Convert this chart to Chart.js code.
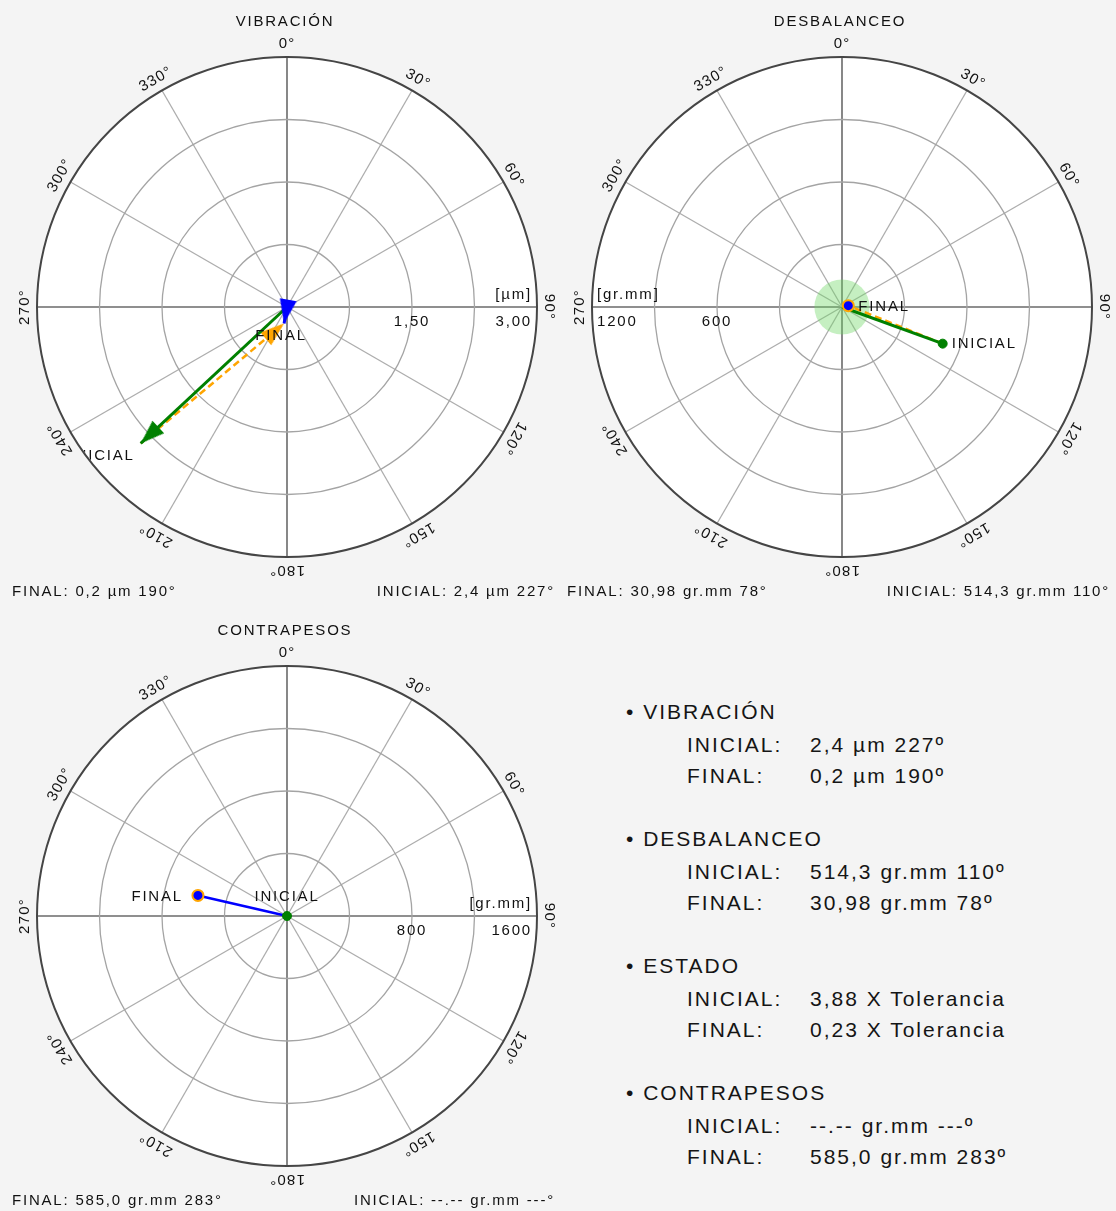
<!DOCTYPE html>
<html>
<head>
<meta charset="utf-8">
<script src="https://cdn.jsdelivr.net/npm/chart.js@4.4.1/dist/chart.umd.min.js"></script>
<style>
  body { margin: 0; background: #f4f4f4; }
  #page { position: relative; width: 1116px; height: 1211px; background: #f4f4f4;
          font-family: 'Liberation Sans', Arial, sans-serif; overflow: hidden; }
  #page canvas { position: absolute; }
  .sum { position: absolute; font-size: 21px; line-height: 24px; color: #151515;
         letter-spacing: 2px; white-space: nowrap; }
</style>
</head>
<body>
<div id="page">
  <canvas id="vib" width="560" height="609" style="left:0;top:0"></canvas>
  <canvas id="des" width="561" height="609" style="left:555px;top:0"></canvas>
  <canvas id="con" width="560" height="602" style="left:0;top:609px"></canvas>
</div>

<script>
/* ── data (index 0 = INICIAL, 1 = FINAL) ── */
const ANGLE_TICKS = [0, 30, 60, 90, 120, 150, 180, 210, 240, 270, 300, 330];

// VIBRACIÓN [µm]
const VIB_MAG   = [2.4, 0.2];
const VIB_ANG   = [227, 190];
const VIB_DEC   = [1, 1];
const VIB_RINGS = [0.75, 1.5, 2.25, 3.0];
const VIB_TICKS = ['1,50', '3,00'];

// DESBALANCEO [gr.mm]
const DES_MAG   = [514.3, 30.98];
const DES_ANG   = [110, 78];
const DES_DEC   = [1, 2];
const DES_RINGS = [300, 600, 900, 1200];
const DES_TICKS = ['600', '1200'];

// ESTADO [x Tolerancia]
const EST_VAL = [3.88, 0.23];

// CONTRAPESOS [gr.mm]  (INICIAL sin dato)
const CON_MAG   = [null, 585.0];
const CON_ANG   = [null, 283];
const CON_DEC   = [2, 1];
const CON_RINGS = [400, 800, 1200, 1600];
const CON_TICKS = ['800', '1600'];

/* ── colours ── */
const GREEN  = '#008000';
const BLUE   = '#0000ff';
const ORANGE = '#ffa500';
const FONT   = '"Liberation Sans", Arial, sans-serif';

/* ── helpers ── */
const RAD = Math.PI / 180;
const fmt  = (v, d) => v == null ? '--.--' : v.toFixed(d).replace('.', ',');
const angT = a => a == null ? '---' : String(a);
const pt   = (m, a) => ({ x: (m || 0) * Math.sin((a || 0) * RAD), y: (m || 0) * Math.cos((a || 0) * RAD) });
const bearing = (p, q) => Math.atan2(q.x - p.x, q.y - p.y) / RAD;
const ORIGIN = { x: 0, y: 0 };

/* arrowhead image: apex at the canvas centre, body below it */
function arrowHead(color, len = 24, wid = 17) {
  const c = document.createElement('canvas');
  c.width = wid; c.height = len * 2;
  const g = c.getContext('2d');
  g.fillStyle = color;
  g.beginPath();
  g.moveTo(wid / 2, len);
  g.lineTo(wid, len * 2);
  g.lineTo(0, len * 2);
  g.closePath();
  g.fill();
  return c;
}

function text(ctx, str, x, y, align = 'center', size = 15, rot = 0, spacing = 1.8) {
  ctx.save();
  ctx.translate(x, y);
  if (rot) ctx.rotate(rot * RAD);
  ctx.font = `${size}px ${FONT}`;
  ctx.letterSpacing = spacing + 'px';
  ctx.fillStyle = '#111';
  ctx.textAlign = align;
  ctx.textBaseline = 'middle';
  ctx.fillText(str, 0, 0);
  ctx.restore();
}

/* ── polar grid + labels plugin ── */
function polarPlugin(c) {
  return {
    id: 'polar',
    beforeDatasetsDraw(chart) {
      const { ctx, scales: { x, y } } = chart;
      const cx = x.getPixelForValue(0), cy = y.getPixelForValue(0);
      const px = v => x.getPixelForValue(v) - cx;
      const R = px(c.rings[c.rings.length - 1]);
      ctx.save();
      ctx.beginPath(); ctx.arc(cx, cy, R, 0, 2 * Math.PI);
      ctx.fillStyle = '#fff'; ctx.fill();

      ANGLE_TICKS.forEach(a => {
        const axis = a % 90 === 0;
        ctx.strokeStyle = axis ? '#6a6a6a' : '#adadad';
        ctx.lineWidth = axis ? 1.6 : 1.3;
        ctx.beginPath();
        ctx.moveTo(cx, cy);
        ctx.lineTo(cx + R * Math.sin(a * RAD), cy - R * Math.cos(a * RAD));
        ctx.stroke();
      });

      ctx.strokeStyle = '#a4a4a4'; ctx.lineWidth = 1.3;
      c.rings.slice(0, -1).forEach(v => {
        ctx.beginPath(); ctx.arc(cx, cy, px(v), 0, 2 * Math.PI); ctx.stroke();
      });

      if (c.tol) {
        ctx.beginPath(); ctx.arc(cx, cy, px(c.tol), 0, 2 * Math.PI);
        ctx.fillStyle = 'rgba(110,215,100,0.4)'; ctx.fill();
      }

      ctx.strokeStyle = '#454545'; ctx.lineWidth = 2;
      ctx.beginPath(); ctx.arc(cx, cy, R, 0, 2 * Math.PI); ctx.stroke();

      // radial tick labels + unit
      const s = c.side === 'left' ? -1 : 1;
      text(ctx, c.ticks[0], cx + s * px(c.rings[1]), cy + 15);
      text(ctx, c.ticks[1], cx + s * (R - 5), cy + 15, s > 0 ? 'right' : 'left');
      text(ctx, c.unit, cx + s * (R - 5), cy - 12, s > 0 ? 'right' : 'left');
      ctx.restore();
    },
    afterDatasetsDraw(chart) {
      const { ctx, scales: { x, y } } = chart;
      const cx = x.getPixelForValue(0), cy = y.getPixelForValue(0);
      const R = x.getPixelForValue(c.rings[c.rings.length - 1]) - cx;

      // vector labels, kept inside the dial
      ctx.save();
      ctx.beginPath(); ctx.arc(cx, cy, R - 1, 0, 2 * Math.PI); ctx.clip();
      c.labels.forEach(l => {
        text(ctx, l.text, x.getPixelForValue(l.at.x) + l.dx, y.getPixelForValue(l.at.y) + l.dy, l.align);
      });
      ctx.restore();

      // angle labels, turned with the angle
      ANGLE_TICKS.forEach(a => {
        text(ctx, a + '°', cx + 262 * Math.sin(a * RAD), cy - 263 * Math.cos(a * RAD), 'center', 15, a, 1.2);
      });

      text(ctx, c.title, cx - 2, 22);
      text(ctx, c.footL, 12, 592, 'left');
      text(ctx, c.footR, 555, 592, 'right');
    }
  };
}

function makePolar(id, datasets, c) {
  const max = c.rings[c.rings.length - 1];
  const cv = document.getElementById(id);
  return new Chart(cv.getContext('2d'), {
    type: 'scatter',
    data: { datasets },
    options: {
      responsive: false,
      animation: false,
      events: [],
      layout: { padding: { left: 37, top: 57, right: cv.width - 537, bottom: cv.height - 557 } },
      scales: {
        x: { type: 'linear', min: -max, max: max, display: false },
        y: { type: 'linear', min: -max, max: max, display: false },
      },
      plugins: { legend: { display: false }, tooltip: { enabled: false } },
    },
    plugins: [polarPlugin(c)],
  });
}

const line = (data, color, width, dash) => ({
  data, showLine: true, borderColor: color, borderWidth: width, borderDash: dash || [],
  pointRadius: 0, fill: false,
});
const head = (p, color, rot) => ({
  data: [p], pointStyle: arrowHead(color), rotation: rot, pointRadius: 10,
});
const dot = (p, fill, stroke, r, bw) => ({
  data: [p], pointRadius: r, pointBackgroundColor: fill, pointBorderColor: stroke, pointBorderWidth: bw,
});

/* ── VIBRACIÓN ── */
const vi = pt(VIB_MAG[0], VIB_ANG[0]), vf = pt(VIB_MAG[1], VIB_ANG[1]);
makePolar('vib', [
  head(vf, BLUE, VIB_ANG[1]),
  line([ORIGIN, vf], BLUE, 3),
  head(vi, GREEN, VIB_ANG[0]),
  line([ORIGIN, vi], GREEN, 3),
  head(vf, ORANGE, bearing(vi, vf)),
  line([vi, vf], ORANGE, 2.5, [7, 4]),
], {
  title: 'VIBRACIÓN', rings: VIB_RINGS, ticks: VIB_TICKS, unit: '[µm]', side: 'right',
  labels: [
    { text: 'INICIAL', at: vi, dx: -6, dy: 12, align: 'right' },
    { text: 'FINAL', at: vf, dx: -3, dy: 12, align: 'center' },
  ],
  footL: `FINAL: ${fmt(VIB_MAG[1], VIB_DEC[1])} µm ${angT(VIB_ANG[1])}°`,
  footR: `INICIAL: ${fmt(VIB_MAG[0], VIB_DEC[0])} µm ${angT(VIB_ANG[0])}°`,
});

/* ── DESBALANCEO ── */
const di = pt(DES_MAG[0], DES_ANG[0]), df = pt(DES_MAG[1], DES_ANG[1]);
makePolar('des', [
  dot(df, BLUE, ORANGE, 5.5, 2),
  dot(di, GREEN, GREEN, 4.5, 1),
  line([ORIGIN, di], GREEN, 3),
  line([di, df], ORANGE, 2.5, [7, 4]),
], {
  title: 'DESBALANCEO', rings: DES_RINGS, ticks: DES_TICKS, unit: '[gr.mm]', side: 'left',
  tol: DES_MAG[0] / EST_VAL[0],
  labels: [
    { text: 'INICIAL', at: di, dx: 9, dy: 0, align: 'left' },
    { text: 'FINAL', at: df, dx: 10, dy: 1, align: 'left' },
  ],
  footL: `FINAL: ${fmt(DES_MAG[1], DES_DEC[1])} gr.mm ${angT(DES_ANG[1])}°`,
  footR: `INICIAL: ${fmt(DES_MAG[0], DES_DEC[0])} gr.mm ${angT(DES_ANG[0])}°`,
});

/* ── CONTRAPESOS ── */
const ci = pt(CON_MAG[0], CON_ANG[0]), cf = pt(CON_MAG[1], CON_ANG[1]);
makePolar('con', [
  dot(ci, GREEN, GREEN, 4.5, 1),
  dot(cf, BLUE, ORANGE, 5.5, 2),
  line([ORIGIN, cf], BLUE, 2.5),
], {
  title: 'CONTRAPESOS', rings: CON_RINGS, ticks: CON_TICKS, unit: '[gr.mm]', side: 'right',
  labels: [
    { text: 'INICIAL', at: ci, dx: 0, dy: -19, align: 'center' },
    { text: 'FINAL', at: cf, dx: -15, dy: 1, align: 'right' },
  ],
  footL: `FINAL: ${fmt(CON_MAG[1], CON_DEC[1])} gr.mm ${angT(CON_ANG[1])}°`,
  footR: `INICIAL: ${fmt(CON_MAG[0], CON_DEC[0])} gr.mm ${angT(CON_ANG[0])}°`,
});

/* ── summary block ── */
const SUMMARY = [
  ['VIBRACIÓN', [fmt(VIB_MAG[0], VIB_DEC[0]) + ' µm ' + angT(VIB_ANG[0]) + 'º',
                 fmt(VIB_MAG[1], VIB_DEC[1]) + ' µm ' + angT(VIB_ANG[1]) + 'º']],
  ['DESBALANCEO', [fmt(DES_MAG[0], DES_DEC[0]) + ' gr.mm ' + angT(DES_ANG[0]) + 'º',
                   fmt(DES_MAG[1], DES_DEC[1]) + ' gr.mm ' + angT(DES_ANG[1]) + 'º']],
  ['ESTADO', [fmt(EST_VAL[0], 2) + ' X Tolerancia', fmt(EST_VAL[1], 2) + ' X Tolerancia']],
  ['CONTRAPESOS', [fmt(CON_MAG[0], CON_DEC[0]) + ' gr.mm ' + angT(CON_ANG[0]) + 'º',
                   fmt(CON_MAG[1], CON_DEC[1]) + ' gr.mm ' + angT(CON_ANG[1]) + 'º']],
];
const page = document.getElementById('page');
function put(str, left, cy) {
  const d = document.createElement('div');
  d.className = 'sum';
  d.style.left = left + 'px';
  d.style.top = (cy - 12) + 'px';
  d.textContent = str;
  page.appendChild(d);
}
SUMMARY.forEach(([name, vals], i) => {
  const y0 = 712 + i * 127;
  put('• ' + name, 626, y0);
  put('INICIAL:', 687, y0 + 33);
  put(vals[0], 810, y0 + 33);
  put('FINAL:', 687, y0 + 64);
  put(vals[1], 810, y0 + 64);
});
</script>
</body>
</html>
